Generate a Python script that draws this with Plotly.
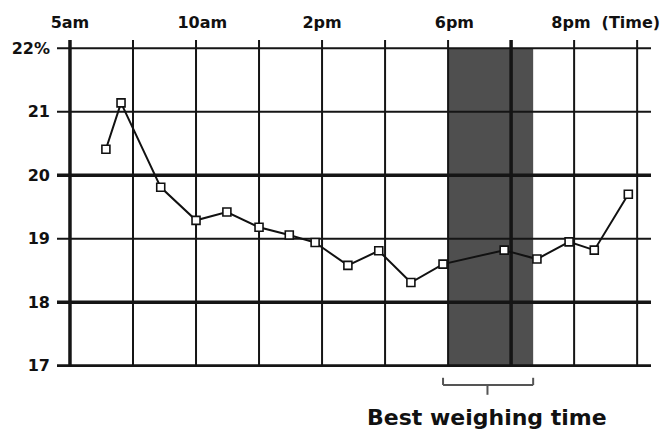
import plotly.graph_objects as go

# Data (x in hour-grid units, y in %)
x_pos = [0.57, 0.81, 1.44, 2.0, 2.49, 3.0, 3.48, 3.89, 4.41, 4.9, 5.41, 5.92, 6.89, 7.41, 7.92, 8.32, 8.86]
values = [20.41, 21.14, 19.81, 19.29, 19.42, 19.18, 19.06, 18.94, 18.58, 18.81, 18.31, 18.6, 18.82, 18.68, 18.95, 18.82, 19.7]

y_ticks = [17, 18, 19, 20, 21, 22]
y_ticktext = ["17", "18", "19", "20", "21", "22%"]
top_tickvals = [0, 2.1, 4.0, 6.1, 7.95, 8.9]
top_ticktext = ["5am", "10am", "2pm", "6pm", "8pm", "(Time)"]
v_grid = [0, 1, 2, 3, 4, 5, 6, 7, 8, 9]
best_start, best_end = 6.0, 7.35
best_label = "Best weighing time"

x_range = [-0.206, 9.22]
y_range = [16.98, 22.13]

h_widths = {17: 3, 18: 3.5, 19: 2, 20: 3.5, 21: 2, 22: 2}
v_widths = {0: 3.5, 7: 3.5}

fig = go.Figure()
fig.add_trace(go.Scatter(
    x=x_pos, y=values, mode="lines+markers",
    line=dict(color="#111111", width=2),
    marker=dict(symbol="square", size=8, color="white",
                line=dict(color="#111111", width=1.6)),
    showlegend=False, hoverinfo="skip"))
# invisible trace for top axis
fig.add_trace(go.Scatter(x=[top_tickvals[0]], y=[y_ticks[0]], xaxis="x2",
                         mode="markers", marker=dict(opacity=0),
                         showlegend=False, hoverinfo="skip"))

shapes = []
shapes.append(dict(type="rect", xref="x", yref="y", x0=best_start, x1=best_end,
                   y0=y_ticks[0], y1=y_ticks[-1], fillcolor="#4f4f4f",
                   line=dict(width=0), layer="below"))
for yv in y_ticks:
    shapes.append(dict(type="line", xref="x", yref="y", x0=x_range[0], x1=x_range[1], y0=yv, y1=yv,
                       line=dict(color="#151515", width=h_widths[yv]), layer="below"))
for xv in v_grid:
    shapes.append(dict(type="line", xref="x", yref="y", x0=xv, x1=xv, y0=y_ticks[0], y1=y_range[1],
                       line=dict(color="#151515", width=v_widths.get(xv, 2)), layer="below"))
# bracket under the band
mid = (best_start + best_end) / 2 - 0.05
br_col = "#555555"
shapes += [
    dict(type="line", xref="x", yref="paper", x0=best_start - 0.08, x1=best_end, y0=-0.055, y1=-0.055,
         line=dict(color=br_col, width=2)),
    dict(type="line", xref="x", yref="paper", x0=best_start - 0.08, x1=best_start - 0.08, y0=-0.055, y1=-0.033,
         line=dict(color=br_col, width=2)),
    dict(type="line", xref="x", yref="paper", x0=best_end, x1=best_end, y0=-0.055, y1=-0.033,
         line=dict(color=br_col, width=2)),
    dict(type="line", xref="x", yref="paper", x0=mid, x1=mid, y0=-0.055, y1=-0.085,
         line=dict(color=br_col, width=2)),
]

tick_font = dict(family="DejaVu Sans", size=16, color="#111111", weight="bold")

fig.update_layout(
    width=662, height=437,
    margin=dict(l=57, r=11, t=40, b=70),
    paper_bgcolor="white", plot_bgcolor="white",
    shapes=shapes,
    xaxis=dict(range=x_range, showgrid=False, zeroline=False,
               showticklabels=False, showline=False, automargin=False),
    xaxis2=dict(range=x_range, overlaying="x", side="top",
                tickvals=top_tickvals, ticktext=top_ticktext,
                showgrid=False, zeroline=False, showline=False, ticks="",
                ticklabelstandoff=8, automargin=False,
                tickfont=tick_font),
    yaxis=dict(range=y_range, tickvals=y_ticks, ticktext=y_ticktext,
               showgrid=False, zeroline=False, showline=False, ticks="",
               ticklabelstandoff=6, automargin=False,
               tickfont=tick_font),
    annotations=[dict(text=best_label, xref="x", yref="paper", x=mid, y=-0.155,
                      showarrow=False, yanchor="middle",
                      font=dict(family="DejaVu Sans", size=22, color="#111111", weight="bold"))],
)

fig.write_html("out.html", config={"displayModeBar": False},
               post_script="document.body.style.margin='0';document.body.style.overflow='hidden';")
